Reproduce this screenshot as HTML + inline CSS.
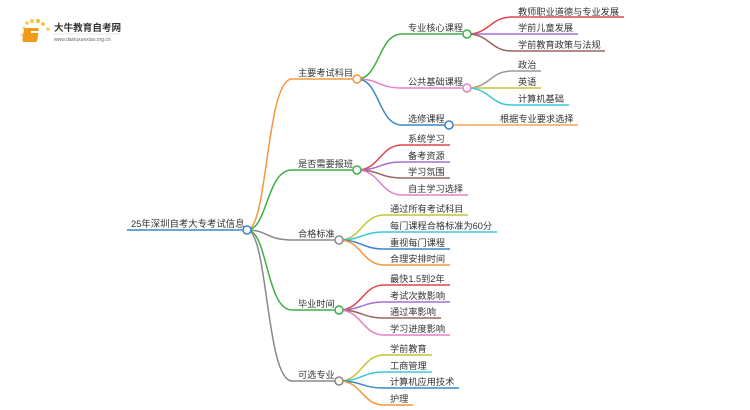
<!DOCTYPE html>
<html><head><meta charset="utf-8"><style>
html,body{margin:0;padding:0;background:#fff;width:750px;height:410px;overflow:hidden}
svg text{font-family:"Liberation Sans","Noto Sans CJK SC",sans-serif;font-size:9.2px;fill:#333}
</style></head><body>
<svg width="750" height="410" viewBox="0 0 750 410" xmlns="http://www.w3.org/2000/svg" fill="none" stroke-width="1.5">
<g>
<circle cx="24" cy="28" r="1.6" fill="#f8d27a" stroke="none"/>
<circle cx="27" cy="23" r="1.8" fill="#f8c850" stroke="none"/>
<circle cx="32" cy="21" r="2" fill="#f8c850" stroke="none"/>
<circle cx="38" cy="21" r="2" fill="#f6b830" stroke="none"/>
<circle cx="43" cy="24" r="1.8" fill="#f6b830" stroke="none"/>
<circle cx="48" cy="29" r="1.8" fill="#f8c850" stroke="none"/>
<circle cx="22" cy="35" r="1.4" fill="#f8d27a" stroke="none"/>
<rect x="28" y="28" width="15" height="14" rx="2" fill="#f29a1a" stroke="none" transform="skewX(-8)"/>
<rect x="31" y="31" width="9" height="2" fill="#fff" stroke="none"/>
<text x="54" y="31" style="font-size:9.6px;fill:#333;font-weight:bold">大牛教育自考网</text>
<line x1="53" y1="34" x2="121" y2="34" stroke="#ccc" stroke-width="0.6"/>
<text x="54" y="41" style="font-size:5px;fill:#666">www.daniuxuexiao.org.cn</text>
</g>

<line x1="127" y1="230" x2="244" y2="230" stroke="#3a86c8"/>
<text x="131" y="227" style="font-size:9.4px">25年深圳自考大专考试信息</text>

<path d="M247,230 C268,230 266,79 292,79 L354,79" stroke="#f7953a"/>
<path d="M247,230 C268,230 266,170 292,170 L354,170" stroke="#3fae49"/>
<path d="M247,230 C268,230 266,240 292,240 L336,240" stroke="#888"/>
<path d="M247,230 C268,230 266,310 292,310 L336,310" stroke="#3fae49"/>
<path d="M247,230 C268,230 266,381 292,381 L336,381" stroke="#888"/>
<text x="298" y="76">主要考试科目</text>
<text x="298" y="167">是否需要报班</text>
<text x="298" y="237">合格标准</text>
<text x="298" y="307">毕业时间</text>
<text x="298" y="378">可选专业</text>

<path d="M357,79 C380,79 378,34 402,34 L464,34" stroke="#3fae49"/>
<path d="M357,79 C380,79 378,88 402,88 L464,88" stroke="#e67fc9"/>
<path d="M357,79 C380,79 378,125 402,125 L446,125" stroke="#3a86c8"/>
<text x="408" y="31">专业核心课程</text>
<text x="408" y="85">公共基础课程</text>
<text x="408" y="122">选修课程</text>
<line x1="452" y1="125" x2="578" y2="125" stroke="#f7a55a"/>
<text x="500" y="122">根据专业要求选择</text>

<path d="M467,34 C490,34 490,17 512,17 L624,17" stroke="#e0464c"/>
<path d="M467,34 L578,34" stroke="#a56fd0"/>
<path d="M467,34 C490,34 490,51 512,51 L605,51" stroke="#9a6660"/>
<text x="518" y="15">教师职业道德与专业发展</text>
<text x="518" y="31">学前儿童发展</text>
<text x="518" y="48">学前教育政策与法规</text>
<path d="M467,88 C490,88 490,71 512,71 L541,71" stroke="#999"/>
<path d="M467,88 L541,88" stroke="#c4c43a"/>
<path d="M467,88 C490,88 490,105 512,105 L569,105" stroke="#3cc8dc"/>
<text x="518" y="68">政治</text>
<text x="518" y="85">英语</text>
<text x="518" y="102">计算机基础</text>

<path d="M357,170 C380,170 380,145 402,145 L450,145" stroke="#e0464c"/>
<path d="M357,170 C380,170 380,162 402,162 L450,162" stroke="#a56fd0"/>
<path d="M357,170 C380,170 380,178 402,178 L450,178" stroke="#9a6660"/>
<path d="M357,170 C380,170 380,195 402,195 L468,195" stroke="#e67fc9"/>
<text x="408" y="142">系统学习</text>
<text x="408" y="159">备考资源</text>
<text x="408" y="175">学习氛围</text>
<text x="408" y="192">自主学习选择</text>

<path d="M339,240 C362,240 362,215 384,215 L468,215" stroke="#c4c43a"/>
<path d="M339,240 C362,240 362,232 384,232 L497,232" stroke="#3cc8dc"/>
<path d="M339,240 C362,240 362,249 384,249 L450,249" stroke="#3a86c8"/>
<path d="M339,240 C362,240 362,265 384,265 L450,265" stroke="#f7953a"/>
<text x="390" y="212">通过所有考试科目</text>
<text x="390" y="229">每门课程合格标准为60分</text>
<text x="390" y="246">重视每门课程</text>
<text x="390" y="262">合理安排时间</text>

<path d="M339,310 C362,310 362,285 384,285 L450,285" stroke="#e0464c"/>
<path d="M339,310 C362,310 362,302 384,302 L450,302" stroke="#a56fd0"/>
<path d="M339,310 C362,310 362,318 384,318 L441,318" stroke="#9a6660"/>
<path d="M339,310 C362,310 362,335 384,335 L450,335" stroke="#e67fc9"/>
<text x="390" y="282">最快1.5到2年</text>
<text x="390" y="299">考试次数影响</text>
<text x="390" y="315">通过率影响</text>
<text x="390" y="332">学习进度影响</text>

<path d="M339,381 C362,381 362,355 384,355 L432,355" stroke="#c4c43a"/>
<path d="M339,381 C362,381 362,372 384,372 L432,372" stroke="#3cc8dc"/>
<path d="M339,381 C362,381 362,388 384,388 L459,388" stroke="#3a86c8"/>
<path d="M339,381 C362,381 362,405 384,405 L413,405" stroke="#f7953a"/>
<text x="390" y="352">学前教育</text>
<text x="390" y="369">工商管理</text>
<text x="390" y="385">计算机应用技术</text>
<text x="390" y="402">护理</text>

<g fill="#fff">
<circle cx="247" cy="230" r="4" stroke="#3a86c8"/>
<circle cx="357" cy="79" r="4" stroke="#f7953a"/>
<circle cx="357" cy="170" r="4" stroke="#3fae49"/>
<circle cx="339" cy="240" r="4" stroke="#888"/>
<circle cx="339" cy="310" r="4" stroke="#3fae49"/>
<circle cx="339" cy="381" r="4" stroke="#888"/>
<circle cx="467" cy="34" r="4" stroke="#3fae49"/>
<circle cx="467" cy="88" r="4" stroke="#e67fc9"/>
<circle cx="449" cy="125" r="4" stroke="#3a86c8"/>
</g>
</svg>
</body></html>
